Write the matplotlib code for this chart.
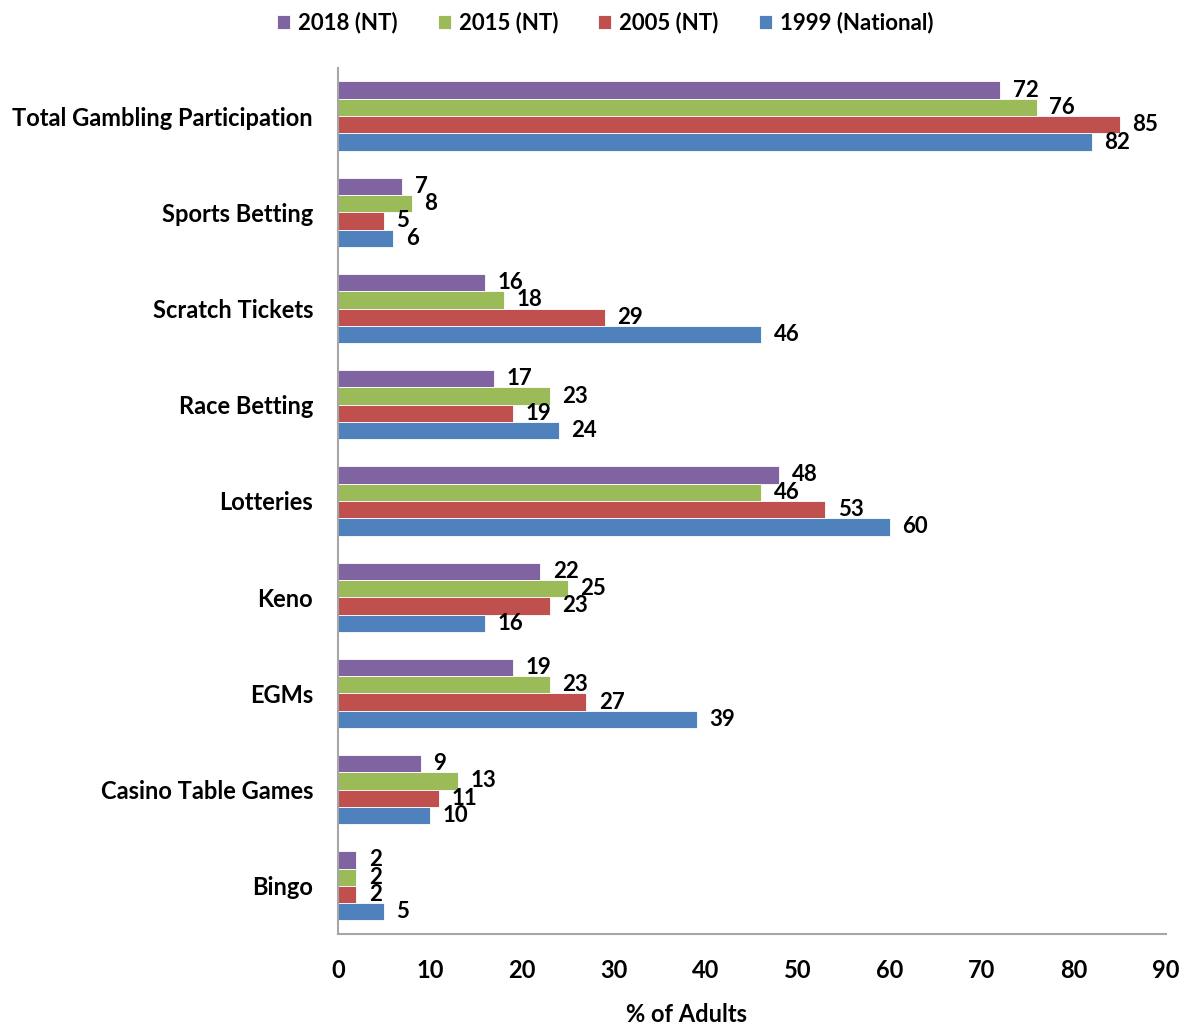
import matplotlib
matplotlib.use('Agg')
import matplotlib.pyplot as plt
import numpy as np

plt.rcParams['font.family'] = ['Lato', 'DejaVu Sans']
plt.rcParams['font.weight'] = 'bold'

# 各类博彩参与率 (% of adults)
categories = ['Total Gambling Participation', 'Sports Betting', 'Scratch Tickets',
              'Race Betting', 'Lotteries', 'Keno', 'EGMs', 'Casino Table Games', 'Bingo']
nt_2018 = [72, 7, 16, 17, 48, 22, 19, 9, 2]
nt_2015 = [76, 8, 18, 23, 46, 25, 23, 13, 2]
nt_2005 = [85, 5, 29, 19, 53, 23, 27, 11, 2]
nat_1999 = [82, 6, 46, 24, 60, 16, 39, 10, 5]
series_names = ['2018 (NT)', '2015 (NT)', '2005 (NT)', '1999 (National)']
colors = ['#8064A2', '#9BBB59', '#C0504D', '#4F81BD']

fig = plt.figure(figsize=(11.84, 10.27), dpi=100)
ax = fig.add_axes([0.2855, 0.0906, 0.699, 0.8432])

y = np.arange(len(categories))
h = 0.18
all_series = [nt_2018, nt_2015, nt_2005, nat_1999]
for i, (vals, name, c) in enumerate(zip(all_series, series_names, colors)):
    pos = y + (i - 1.5) * h
    ax.barh(pos, vals, height=h, color=c, edgecolor='white', linewidth=0.6, label=name)
    for p, v in zip(pos, vals):
        ax.annotate(f'{v:.0f}', (v, p), xytext=(9, 0), textcoords='offset points',
                    ha='left', va='center', fontsize=16, fontweight='bold')

ax.set_ylim(len(categories) - 0.5, -0.5)
ax.set_xlim(0, 90)
ax.set_xticks(np.arange(0, 91, 10))
ax.set_yticks(y)
ax.set_yticklabels(categories)
ax.tick_params(axis='both', length=0, labelsize=17)
ax.tick_params(axis='x', pad=18)
ax.tick_params(axis='y', pad=18)
for s in ['top', 'right']:
    ax.spines[s].set_visible(False)
for s in ['left', 'bottom']:
    ax.spines[s].set_color('#a6a6a6')
    ax.spines[s].set_linewidth(1.5)

# x 轴标题
fig.text(0.580, 1 - 1015 / 1027, '% of Adults', ha='center', va='center',
         fontsize=17, fontweight='bold')

fig.legend(loc='center', bbox_to_anchor=(0.511, 0.978), ncol=4, frameon=False,
           fontsize=16, handlelength=0.6, handleheight=0.6, handletextpad=0.35,
           columnspacing=1.8)

fig.savefig('out.png', dpi=100)
